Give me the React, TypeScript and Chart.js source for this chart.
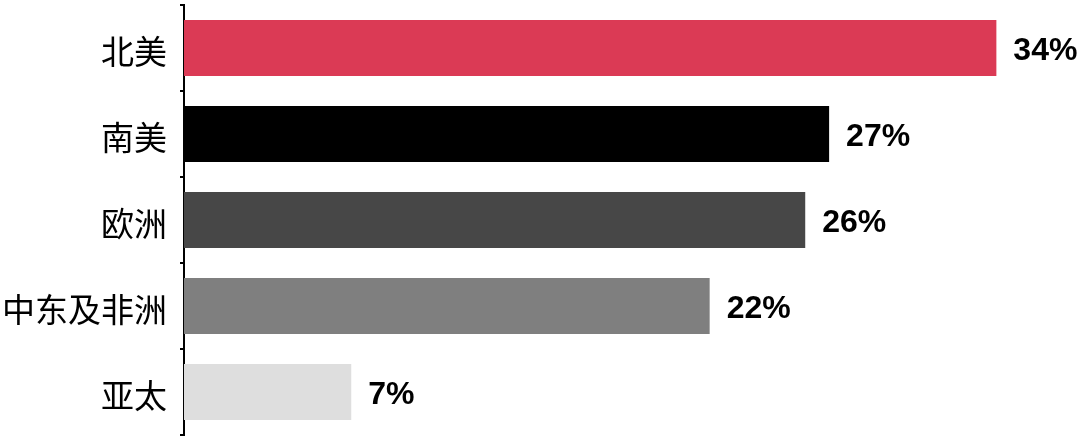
import React, { useEffect, useRef } from "react";
import { Chart, registerables } from "chart.js";

Chart.register(...registerables);

const categories = ["北美", "南美", "欧洲", "中东及非洲", "亚太"];
const values = [34, 27, 26, 22, 7];
const valueLabels = ["34%", "27%", "26%", "22%", "7%"];
const barColors = ["#DB3A55", "#000000", "#474747", "#7F7F7F", "#DEDEDE"];

const valueLabelPlugin = {
  id: "valueLabels",
  afterDatasetsDraw(chart: any) {
    const ctx = chart.ctx;
    const meta = chart.getDatasetMeta(0);
    ctx.save();
    ctx.font = "bold 32px 'Liberation Sans', Arial, sans-serif";
    ctx.fillStyle = "#000000";
    ctx.textAlign = "left";
    ctx.textBaseline = "middle";
    meta.data.forEach((bar: any, i: number) => {
      ctx.fillText(valueLabels[i], bar.x + 17, bar.y + 3);
    });
    ctx.restore();
  },
};

export default function App() {
  const ref = useRef<HTMLCanvasElement>(null);
  useEffect(() => {
    document.body.style.margin = "0";
    const chart = new Chart(ref.current!, {
      type: "bar",
      data: {
        labels: categories,
        datasets: [
          {
            data: values,
            backgroundColor: barColors,
            borderWidth: 0,
            barPercentage: 0.65,
            categoryPercentage: 1,
          },
        ],
      },
      options: {
        indexAxis: "y",
        animation: false,
        responsive: false,
        maintainAspectRatio: false,
        layout: { padding: { top: 5, bottom: 5, left: 0, right: 0 } },
        plugins: { legend: { display: false }, tooltip: { enabled: false } },
        scales: {
          x: { display: false, min: 0, max: 37.5 },
          y: {
            afterFit: (scale: any) => {
              scale.width = 184;
              scale.paddingTop = 0;
              scale.paddingBottom = 0;
            },
            grid: {
              drawOnChartArea: false,
              drawTicks: true,
              tickLength: 4,
              color: "#000000",
              lineWidth: 2,
              offset: true,
            },
            border: { display: true, color: "#000000", width: 2 },
            ticks: {
              color: "#000000",
              padding: 13,
              labelOffset: 3,
              font: { family: "'Noto Sans CJK SC', sans-serif", size: 33 },
            },
          },
        },
      },
      plugins: [valueLabelPlugin],
    });
    return () => chart.destroy();
  }, []);
  return (
    <div style={{ position: "fixed", left: 0, top: 0, width: 1080, height: 440 }}>
      <canvas ref={ref} width={1080} height={440} />
    </div>
  );
}
